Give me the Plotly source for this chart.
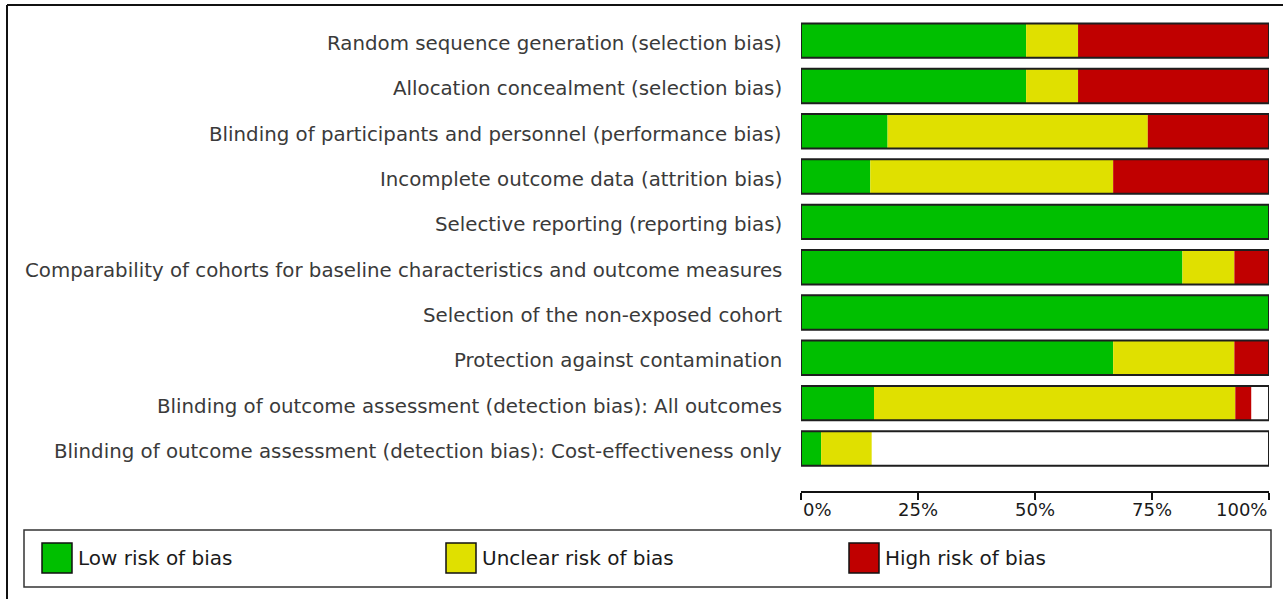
import plotly.graph_objects as go

# ---------------- data (percent of studies) ----------------
categories = [
    "Random sequence generation (selection bias)",
    "Allocation concealment (selection bias)",
    "Blinding of participants and personnel (performance bias)",
    "Incomplete outcome data (attrition bias)",
    "Selective reporting (reporting bias)",
    "Comparability of cohorts for baseline characteristics and outcome measures",
    "Selection of the non-exposed cohort",
    "Protection against contamination",
    "Blinding of outcome assessment (detection bias): All outcomes",
    "Blinding of outcome assessment (detection bias): Cost-effectiveness only",
]
low_risk = [48.1, 48.1, 18.5, 14.8, 100.0, 81.5, 100.0, 66.7, 15.6, 4.3]
unclear_risk = [11.1, 11.1, 55.6, 51.9, 0.0, 11.1, 0.0, 25.9, 77.2, 10.8]
high_risk = [40.7, 40.7, 25.9, 33.3, 0.0, 7.4, 0.0, 7.4, 3.4, 0.0]
series_names = ["Low risk of bias", "Unclear risk of bias", "High risk of bias"]
tick_values = [0, 25, 50, 75, 100]
tick_labels = ["0%", "25%", "50%", "75%", "100%"]

colors = ["#00BF00", "#E0E000", "#C00000"]

# ---------------- layout geometry (pixels) ----------------
FIG_W, FIG_H = 1285, 599
L, R, T, B = 801, 1269, 18, 491
PW, PH = R - L, B - T


def px2x(px):
    return (px - L) / PW


def py2y(py):
    return (B - py) / PH


fig = go.Figure()

series = [low_risk, unclear_risk, high_risk]
bases = [0.0] * len(categories)
for name, vals, col in zip(series_names, series, colors):
    fig.add_trace(go.Bar(
        y=categories, x=vals, base=list(bases), orientation="h",
        name=name, marker=dict(color=col, line=dict(width=0)),
        width=0.76, showlegend=False,
    ))
    bases = [b + v for b, v in zip(bases, vals)]

# outline of each full 0-100% bar
fig.add_trace(go.Bar(
    y=categories, x=[100] * len(categories), base=[0] * len(categories),
    orientation="h", marker=dict(color="rgba(0,0,0,0)", line=dict(color="#1e1e1e", width=2)),
    width=0.76, showlegend=False, hoverinfo="skip",
))

shapes = []
annotations = []

# category labels (slightly below bar centre, as in the reference)
for cat in categories:
    annotations.append(dict(xref="paper", yref="y", x=px2x(784), y=cat, yshift=-3,
                            xanchor="right", yanchor="middle", showarrow=False,
                            text=cat, font=dict(family="DejaVu Sans", size=19.8, color="#3a3a3a")))

# outer frame (top & left)
shapes.append(dict(type="line", xref="paper", yref="paper",
                   x0=px2x(7), x1=px2x(1283), y0=py2y(5), y1=py2y(5),
                   line=dict(color="#111", width=2)))
shapes.append(dict(type="line", xref="paper", yref="paper",
                   x0=px2x(7), x1=px2x(7), y0=py2y(5), y1=py2y(600),
                   line=dict(color="#111", width=2)))

# legend box
shapes.append(dict(type="rect", xref="paper", yref="paper",
                   x0=px2x(24), x1=px2x(1271), y0=py2y(530), y1=py2y(587),
                   line=dict(color="#333", width=1.5), fillcolor="white"))
leg_x = [42, 446, 849]
for name, col, lx in zip(series_names, colors, leg_x):
    shapes.append(dict(type="rect", xref="paper", yref="paper",
                       x0=px2x(lx), x1=px2x(lx + 30), y0=py2y(543), y1=py2y(573),
                       line=dict(color="#111", width=1.5), fillcolor=col))
    annotations.append(dict(xref="paper", yref="paper", x=px2x(lx + 34), y=py2y(558),
                            xanchor="left", yanchor="middle", showarrow=False,
                            text=name, font=dict(family="DejaVu Sans", size=20, color="#1a1a1a")))

# x tick labels
for tv, tl in zip(tick_values, tick_labels):
    anchor = "left" if tv == tick_values[0] else ("right" if tv == tick_values[-1] else "center")
    annotations.append(dict(xref="x", yref="paper", x=tv, y=py2y(509),
                            xanchor=anchor, yanchor="middle", showarrow=False,
                            text=tl, font=dict(family="DejaVu Sans", size=18, color="#1a1a1a")))

fig.update_layout(
    width=FIG_W, height=FIG_H,
    margin=dict(l=L, r=FIG_W - R, t=T, b=FIG_H - B, pad=0),
    barmode="overlay",
    plot_bgcolor="white", paper_bgcolor="white",
    shapes=shapes, annotations=annotations,
    xaxis=dict(range=[0, 100], tickvals=tick_values, showticklabels=False,
               ticks="outside", ticklen=7, tickwidth=2, tickcolor="#111",
               showline=True, linecolor="#111", linewidth=2,
               showgrid=False, zeroline=False, fixedrange=True),
    xaxis2=dict(range=[0, 100], overlaying="x", side="bottom", anchor="y",
                tickvals=tick_values, showticklabels=False,
                ticks="inside", ticklen=8, tickwidth=2, tickcolor="#111",
                showline=False, showgrid=False, zeroline=False),
    yaxis=dict(type="category", categoryorder="array", categoryarray=categories,
               range=[9.94, -0.5], autorange=False, showticklabels=False,
               showgrid=False, zeroline=False, showline=False, ticks=""),
    showlegend=False,
)

fig.write_html(
    "out.html",
    config={"displayModeBar": False},
    post_script="document.body.style.margin='0px';document.body.style.overflow='hidden';",
)
